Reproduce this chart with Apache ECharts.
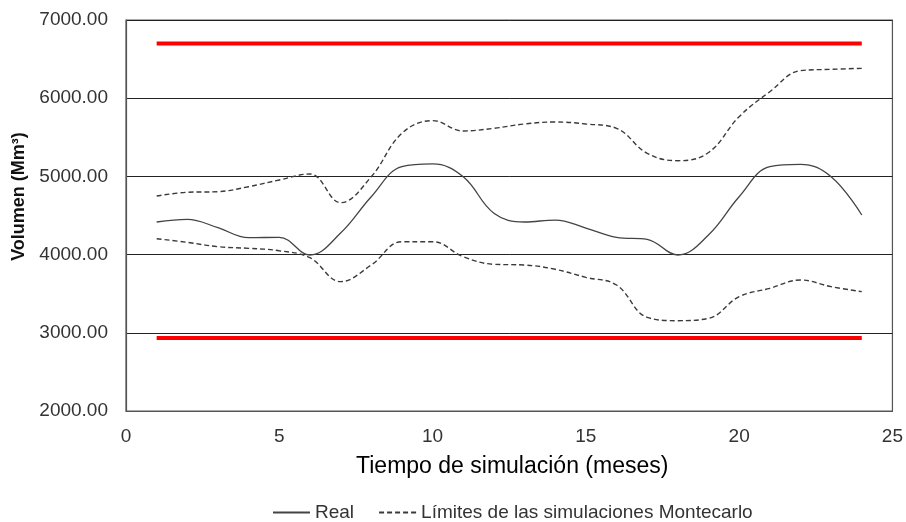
<!DOCTYPE html>
<html>
<head>
<meta charset="utf-8">
<script src="https://cdn.jsdelivr.net/npm/echarts@6/dist/echarts.min.js"></script>
<style>
  html, body { margin: 0; padding: 0; background: #fff; }
  #chart { width: 906px; height: 522px; }
</style>
</head>
<body>
<div id="chart"></div>
<script>
// Meses simulados
const meses = [1,2,3,4,5,6,7,8,9,10,11,12,13,14,15,16,17,18,19,20,21,22,23,24];

// Volumen real (Mm³)
const real = [4417,4451,4344,4216,4221,3995,4276,4740,5124,5159,4996,4530,
              4417,4442,4340,4221,4196,3995,4251,4740,5124,5155,4996,4506];

// Límites de las simulaciones Montecarlo
const limiteSuperior = [4749,4797,4805,4868,4954,5031,4664,4996,5551,5713,5581,5615,
                        5670,5696,5670,5615,5295,5201,5305,5764,6083,6352,6369,6382];
const limiteInferior = [4203,4157,4101,4080,4050,3960,3654,3867,4165,4165,3973,3876,
                        3867,3812,3709,3611,3198,3155,3185,3462,3569,3675,3590,3526];

// Umbrales de volumen
const umbralMaximo = 6700;
const umbralMinimo = 2935;

// Ejes
const ejeX = { min: 0, max: 25, interval: 5 };
const ejeY = { min: 2000, max: 7000, interval: 1000 };

const pares = vals => meses.map((m, i) => [m, vals[i]]);
const constante = v => [[meses[0], v], [meses[meses.length - 1], v]];

const nombreReal = 'Real';
const nombreLimites = 'Límites de las simulaciones Montecarlo';

const fuente = 'Liberation Sans, Arial, sans-serif';

const chart = echarts.init(document.getElementById('chart'), null, { renderer: 'canvas' });

const dashed = { color: '#3a3a3a', width: 1.4, type: [5, 3] };

chart.setOption({
  animation: false,
  backgroundColor: '#ffffff',
  grid: { left: 126, right: 11, top: 20, bottom: 111, show: true, borderColor: '#555', borderWidth: 1.2 },
  xAxis: {
    type: 'value', min: ejeX.min, max: ejeX.max, interval: ejeX.interval,
    name: 'Tiempo de simulación (meses)', nameLocation: 'middle', nameGap: 44,
    nameTextStyle: { fontFamily: fuente, fontSize: 23, fontWeight: 'normal', color: '#000',
                     padding: [0, 0, 0, 6] },
    axisLine: { show: true, lineStyle: { color: '#555', width: 1.2 } },
    axisTick: { show: false },
    splitLine: { show: false },
    axisLabel: { fontFamily: fuente, fontSize: 19, color: '#333', margin: 16 }
  },
  yAxis: {
    type: 'value', min: ejeY.min, max: ejeY.max, interval: ejeY.interval,
    name: 'Volumen (Mm³)', nameLocation: 'middle', nameGap: 93, nameRotate: 90,
    nameTextStyle: { fontFamily: fuente, fontSize: 18, fontWeight: 'bold', color: '#111',
                     padding: [0, 0, 0, 38] },
    axisLine: { show: true, lineStyle: { color: '#555', width: 1.2 } },
    axisTick: { show: false },
    splitLine: { show: true, lineStyle: { color: '#222', width: 1 } },
    axisLabel: { fontFamily: fuente, fontSize: 19, color: '#333', margin: 18,
                 formatter: v => v.toFixed(2) }
  },
  legend: {
    data: [nombreReal, nombreLimites],
    top: 503, left: 272, padding: 0,
    itemWidth: 37, itemHeight: 10, itemGap: 24,
    itemStyle: { opacity: 0 },
    textStyle: { fontFamily: fuente, fontSize: 19, color: '#333' }
  },
  series: [
    { name: 'umbral-max', type: 'line', data: constante(umbralMaximo), symbol: 'none',
      lineStyle: { color: '#ff0000', width: 4 }, silent: true },
    { name: 'umbral-min', type: 'line', data: constante(umbralMinimo), symbol: 'none',
      lineStyle: { color: '#ff0000', width: 4 }, silent: true },
    { name: nombreLimites, type: 'line', data: pares(limiteSuperior), symbol: 'none', smooth: 0.4,
      color: '#3a3a3a', lineStyle: dashed },
    { name: nombreLimites, type: 'line', data: pares(limiteInferior), symbol: 'none', smooth: 0.4,
      color: '#3a3a3a', lineStyle: dashed },
    { name: nombreReal, type: 'line', data: pares(real), symbol: 'none', smooth: 0.4,
      color: '#444', lineStyle: { color: '#444', width: 1.3 } }
  ]
});
</script>
</body>
</html>
